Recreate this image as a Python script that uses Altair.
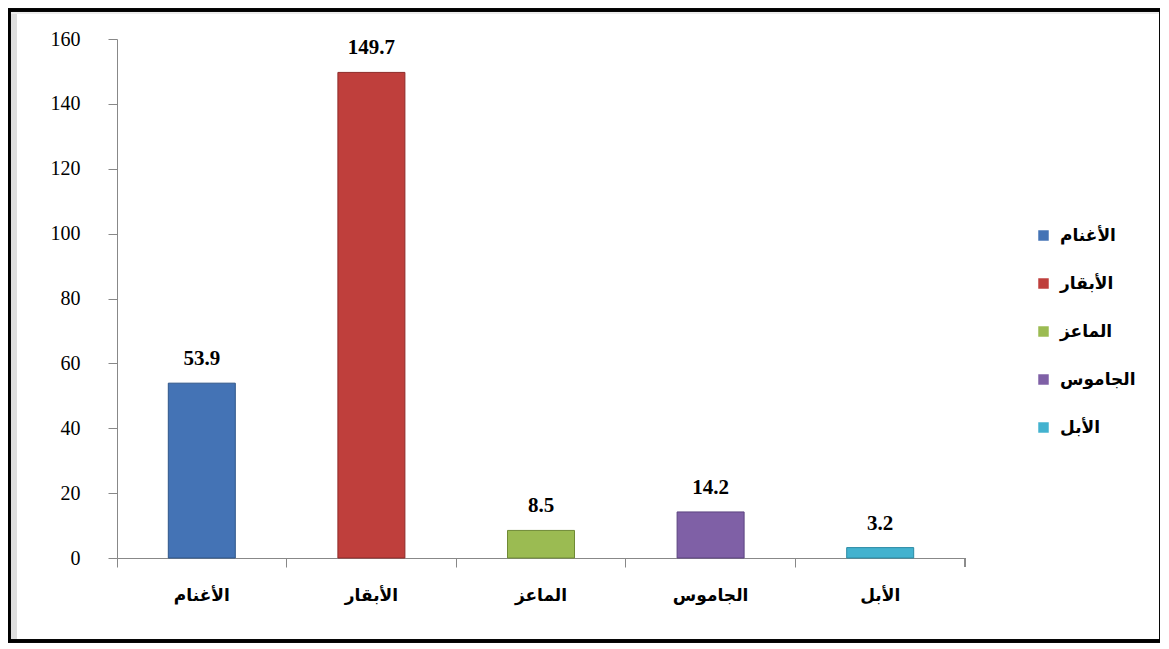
import altair as alt
import pandas as pd

categories = ["الأغنام", "الأبقار", "الماعز", "الجاموس", "الأبل"]
values = [53.9, 149.7, 8.5, 14.2, 3.2]
fill_colors = ["#4473b5", "#bf3f3c", "#9bbb52", "#7f60a6", "#43b2cf"]
edge_colors = ["#2f5689", "#8e2b29", "#6f8a35", "#5c4380", "#2a8aa3"]
y_ticks = [0, 20, 40, 60, 80, 100, 120, 140, 160]

df = pd.DataFrame({"cat": categories, "val": values})

W, H = 848, 519

x = alt.X("cat:N", sort=categories,
          scale=alt.Scale(paddingInner=0, paddingOuter=0),
          axis=alt.Axis(title=None, labelAngle=0, bandPosition=0,
                        labelFont="DejaVu Sans", labelFontWeight="bold",
                        labelFontSize=17, labelColor="black",
                        labelPadding=20, tickSize=9, tickColor="#888888",
                        domainColor="#888888", labelBound=False))
y = alt.Y("val:Q", scale=alt.Scale(domain=[0, 160], nice=False),
          axis=alt.Axis(title=None, values=y_ticks, grid=False,
                        labelFont="Liberation Serif", labelFontSize=20,
                        labelColor="black", labelPadding=28, tickSize=9,
                        tickColor="#888888", domainColor="#888888"))

bars = alt.Chart(df).mark_bar(size=67, strokeWidth=1).encode(
    x=x, y=y,
    color=alt.Color("cat:N", sort=categories,
                    scale=alt.Scale(domain=categories, range=fill_colors),
                    legend=alt.Legend(title=None, orient="none",
                                      legendX=918, legendY=188,
                                      symbolType="square", symbolSize=110,
                                      symbolStrokeWidth=0,
                                      labelFont="DejaVu Sans",
                                      labelFontWeight="bold",
                                      labelFontSize=17, labelColor="black",
                                      rowPadding=30, labelOffset=8)),
    stroke=alt.Stroke("cat:N", sort=categories,
                      scale=alt.Scale(domain=categories, range=edge_colors),
                      legend=None),
)

labels = alt.Chart(df).mark_text(
    dy=-14, baseline="bottom", font="Liberation Serif",
    fontWeight="bold", fontSize=21, color="black"
).encode(x=alt.X("cat:N", sort=categories), y="val:Q",
         text=alt.Text("val:Q", format=".1f"))

frame_shadow = alt.Chart(df).mark_rect(fill="#dedede").encode(
    x=alt.value(-107), x2=alt.value(-100), y=alt.value(-28), y2=alt.value(600))
frame_shadow_top = alt.Chart(df).mark_rect(fill="#ececec").encode(
    x=alt.value(-107), x2=alt.value(1042), y=alt.value(-28), y2=alt.value(-25))
frame = alt.Chart(df).mark_rect(fill=None, stroke="black", strokeWidth=3).encode(
    x=alt.value(-108), x2=alt.value(1044), y=alt.value(-29), y2=alt.value(602))
end_tick = alt.Chart(df).mark_rule(color="#888888").encode(
    x=alt.value(W), y=alt.value(H), y2=alt.value(H + 9))

chart = alt.layer(frame_shadow, frame_shadow_top, bars, labels, end_tick, frame).properties(
    width=W, height=H,
    padding={"left": 109, "top": 31, "right": 195, "bottom": 86},
    autosize=alt.AutoSizeParams(type="none"),
).configure(background="white").configure_view(stroke=None, strokeWidth=0)

chart.save("out.html", embed_options={"renderer": "svg", "actions": False})
